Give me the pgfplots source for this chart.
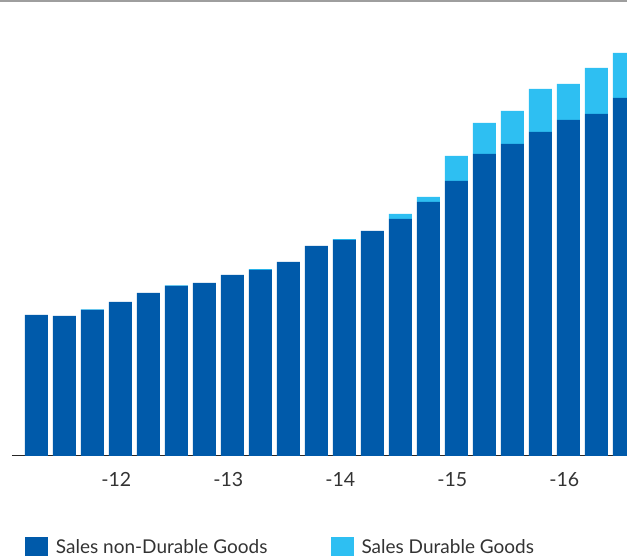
\documentclass[border=0pt]{standalone}
\usepackage{fontspec}
\setmainfont{Lato}
\usepackage{pgfplots}
\pgfplotsset{compat=1.18}
\definecolor{darkblue}{HTML}{005AAA}
\definecolor{lightblue}{HTML}{2EBFF2}
\definecolor{txt}{HTML}{333333}
\pgfplotsset{sqlegend/.style={legend image code/.code={\fill[##1] (0pt,-9pt) rectangle (23pt,10pt);}}}
\begin{document}
\begin{tikzpicture}
\useasboundingbox (0,0) rectangle (627pt,556pt);
\begin{axis}[
  at={(12pt,100pt)}, anchor=south west,
  width=615pt, height=456pt, scale only axis,
  xmin=-0.875, xmax=21.09, ymin=0, ymax=456,
  ybar stacked, bar width=0.8214,
  axis x line=bottom, axis y line=none,
  x axis line style={-, draw=black!85, line width=1pt},
  xtick={2.85,6.85,10.85,14.85,18.85},
  xticklabels={{-12},{-13},{-14},{-15},{-16}},
  major tick length=0, ytick=\empty,
  xticklabel style={font=\fontsize{19.5}{22}\selectfont, text=txt, anchor=base, yshift=-31pt},
  legend columns=2,
  legend style={at={(0.0211,-0.1776)}, anchor=north west, draw=none, fill=none,
    inner sep=0pt, outer sep=0pt,
    font=\fontsize{19}{22}\selectfont, text=txt,
    /tikz/every odd column/.append style={column sep=6pt},
    /tikz/every even column/.append style={column sep=61pt}},
]
\addplot[fill=darkblue, draw=none, sqlegend] coordinates {
(0,141) (1,140) (2,146) (3,154) (4,163) (5,170) (6,173) (7,181) (8,186) (9,194) (10,210)
(11,216) (12,225) (13,237) (14,254) (15,275) (16,302) (17,312) (18,324) (19,336) (20,342) (21,358)};
\addplot[fill=lightblue, draw=none, sqlegend] coordinates {
(0,0) (1,0) (2,0.6) (3,0) (4,0) (5,0.6) (6,0) (7,0) (8,0.8) (9,0) (10,0)
(11,0.8) (12,0) (13,5) (14,5) (15,25) (16,31) (17,33) (18,43) (19,36) (20,46) (21,45)};
\legend{Sales non-Durable Goods, Sales Durable Goods}
\end{axis}
\draw[black!38, line width=2pt] (0,555pt) -- (627pt,555pt);
\end{tikzpicture}
\end{document}
